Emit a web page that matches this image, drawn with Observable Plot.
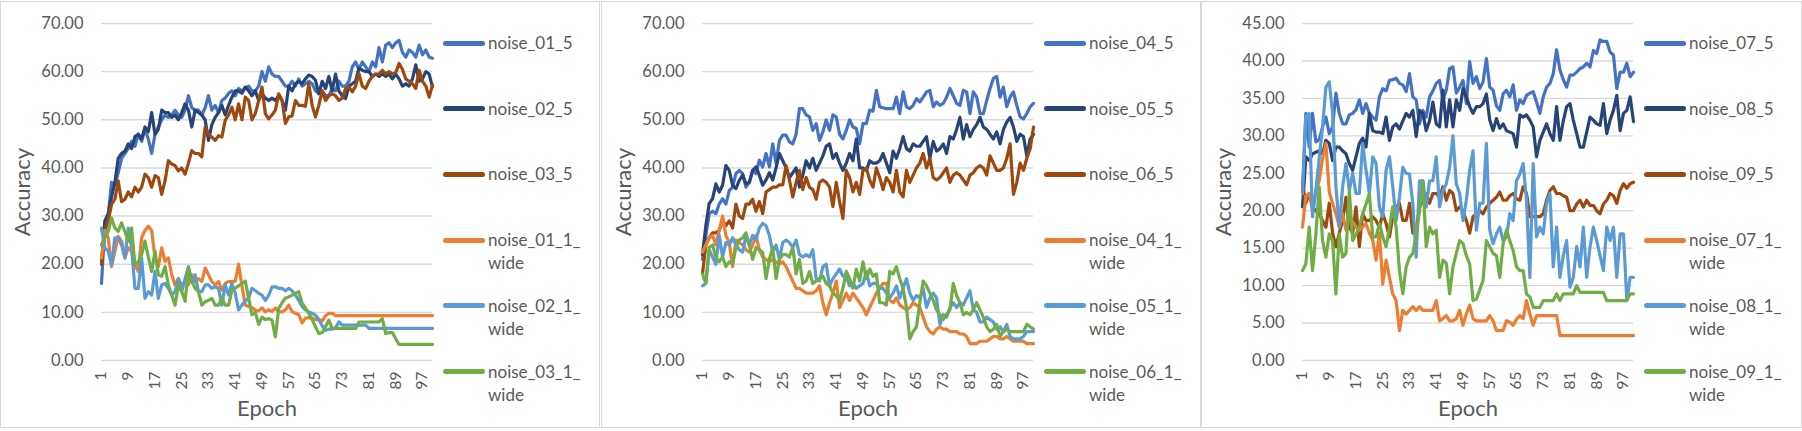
<!DOCTYPE html>
<html>
<head>
<meta charset="utf-8">
<script src="https://cdn.jsdelivr.net/npm/d3@7"></script>
<script src="https://cdn.jsdelivr.net/npm/@observablehq/plot@0.6"></script>
<style>
  html, body { margin: 0; padding: 0; background: #fff; }
  body { width: 1802px; height: 431px; position: relative; overflow: hidden; font-family: Lato, "Noto Sans", sans-serif; color: #595959; }
  .panel { position: absolute; top: 1px; height: 427px; border: 1px solid #d9d9d9; box-sizing: border-box; background: #fff; }
  .panel svg { position: absolute; left: 0; top: 0; }
  .sw { position: absolute; height: 5px; width: 42px; border-radius: 2.5px; }
  .lt { position: absolute; font-size: 17px; line-height: 23px; white-space: pre-line; color: #595959; }
</style>
</head>
<body>
<script>
const epochs = d3.range(1, 101);
const xTicks = [1, 9, 17, 25, 33, 41, 49, 57, 65, 73, 81, 89, 97];
const yTicks70 = [0, 10, 20, 30, 40, 50, 60, 70];
const yTicks45 = [0, 5, 10, 15, 20, 25, 30, 35, 40, 45];
const colors = ["#4472C4", "#264478", "#9E480E", "#ED7D31", "#5B9BD5", "#70AD47"];

// ---------- Panel 1 ----------
const names1 = ["noise_01_5", "noise_02_5", "noise_03_5", "noise_01_1_wide", "noise_02_1_wide", "noise_03_1_wide"];
const noise_01_5 = [16, 28, 30, 37, 36.5, 39, 42, 43, 44, 45.5,
 44.5, 47, 45.5, 48, 46, 43, 47, 48.5, 50, 51,
 50.5, 51, 52, 51, 50.5, 52, 55, 52.5, 52, 52,
 51, 52.5, 55, 52, 53, 51.5, 54, 54.5, 55.5, 56,
 55, 56.5, 56, 56.5, 57, 56, 56, 57, 60, 58,
 61, 59.5, 59, 59, 58, 57, 57, 58, 57, 58.5,
 57, 57.5, 58, 57.5, 56, 55.5, 56, 55, 55, 56.5,
 56, 58, 57, 57, 58, 61, 62, 60.5, 62, 61,
 60, 62, 61, 65, 62, 65.5, 66, 65, 66, 66.5,
 64, 63, 64.5, 64, 63, 65.5, 63.5, 64.5, 63, 62.8];
const noise_02_5 = [20, 29, 30.5, 34, 37, 42, 43, 43.5, 45, 44,
 46.5, 47, 46, 48.5, 47.5, 51.5, 47, 48, 52, 51.5,
 51.5, 50.5, 51, 50, 51.5, 53.3, 52, 48.5, 52, 51.5,
 51, 50, 45.7, 49, 50.5, 51.5, 53, 51, 53, 54.7,
 56, 56, 55.5, 56.8, 56, 55, 56, 54, 55.5, 54.5,
 54, 54.5, 54, 55, 54, 52, 57, 56, 57.5, 58,
 57.5, 58.5, 59.3, 59, 58.2, 55.4, 58, 56.5, 59, 56,
 59.5, 56, 55, 54.4, 57, 57.5, 58, 60.7, 60.3, 60,
 60, 59, 59.5, 59, 59.5, 59, 59.5, 58.5, 59.5, 58.5,
 57, 57.5, 57, 58.5, 61.4, 58, 58.5, 60, 59.5, 56.8];
const noise_03_5 = [20, 27, 29, 32.4, 33.5, 37.3, 33, 33.5, 35, 34,
 36, 35, 36, 38.7, 38, 36, 38.4, 38, 34.5, 37.3,
 41.5, 40.8, 40.5, 39.4, 40, 38.7, 41, 43.6, 43, 43,
 42.3, 48.5, 47, 46.4, 45.7, 46.7, 46.4, 49.9, 51, 52.6,
 50, 53.3, 50, 54.7, 54, 50, 51.3, 54, 56.8, 51.3,
 50.2, 51, 52, 55.4, 54, 49.2, 50.6, 50.8, 54, 53,
 53, 52.8, 57.5, 53, 50.6, 53, 56, 54, 55, 55.4,
 55, 54, 54.5, 56.5, 56.8, 55.8, 57, 59.6, 57, 56.5,
 58, 59, 59.5, 59.5, 60.3, 59.5, 60, 59.5, 59.8, 61.7,
 60.5, 58.5, 58, 57.5, 56.5, 60.3, 58, 57, 54.7, 57.2];
const noise_01_1_wide = [21.3, 27, 25.5, 19.5, 22.7, 25.8, 24.8, 21.3, 23.4, 22.7,
 19.9, 18.5, 25.5, 27, 27.9, 27, 21.3, 19.5, 23.4, 20.6,
 21.3, 17.8, 15.7, 17, 15.7, 16.4, 15.7, 17.8, 16.4, 17,
 16.4, 19.2, 17.8, 16.4, 15.7, 16.4, 14.6, 16, 16.4, 16.4,
 16.5, 20, 15.5, 11.5, 11.2, 11, 10.5, 10.3, 10.9, 10.1,
 10.5, 10.2, 10.9, 10.1, 10.1, 10.5, 11.5, 10.1, 9.8, 9.5,
 7.8, 8.8, 8.9, 8.8, 8.5, 8.5, 8.2, 9.3, 9.8, 9.8,
 9.33, 9.33, 9.33, 9.33, 9.33, 9.33, 9.33, 9.33, 9.33, 9.33,
 9.33, 9.33, 9.33, 9.33, 9.33, 9.33, 9.33, 9.33, 9.33, 9.33,
 9.33, 9.33, 9.33, 9.33, 9.33, 9.33, 9.33, 9.33, 9.33, 9.33];
const noise_02_1_wide = [27.5, 23.4, 22.7, 19.9, 25.5, 25.5, 24, 21.3, 27.5, 23.4,
 15, 15, 21.3, 12.9, 14.3, 13.6, 18.5, 12.9, 15.7, 16,
 15, 13.6, 14.3, 17, 14.3, 17, 19.5, 16.4, 17.8, 14.3,
 14.3, 15.7, 15.7, 15, 15.3, 15, 11.5, 15.7, 13.6, 16,
 14, 10.5, 11.5, 12.3, 13, 15, 14.5, 14, 13.6, 12.5,
 13.5, 15.3, 15.3, 15, 15, 14.5, 15, 14.5, 13.6, 12.5,
 11.2, 10.5, 10.1, 9.8, 9.4, 8.5, 7.2, 6.3, 6.5, 6.5,
 6.8, 8, 7.33, 7.33, 7.33, 7.33, 7.33, 7.33, 7.33, 7.33,
 6.67, 6.67, 6.67, 6.67, 6.67, 6.67, 6.67, 6.67, 6.67, 6.67,
 6.67, 6.67, 6.67, 6.67, 6.67, 6.67, 6.67, 6.67, 6.67, 6.67];
const noise_03_1_wide = [24, 25.5, 26.8, 29.6, 27.5, 26.8, 28.6, 26.8, 24.8, 27.5,
 19.9, 20.5, 22, 24.8, 21.5, 18.5, 22.7, 17.8, 17.5, 19.5,
 15.7, 13.6, 11.5, 15.7, 14.3, 12.3, 19.2, 16.4, 15, 14.3,
 11.5, 12.2, 12.5, 12.9, 11.5, 11.5, 13, 11.5, 11.5, 14.5,
 15, 15.5, 16, 16.5, 13, 9.5, 10, 7.5, 9, 8.5,
 8.7, 8.4, 4.9, 10.8, 12, 13, 13.2, 13.6, 14, 14.3,
 11.9, 10.9, 9.8, 8.5, 7, 5.6, 5.8, 7, 8.4, 6.67,
 6.67, 6.67, 6.67, 6.67, 6.67, 6.67, 6.67, 8, 8, 8,
 8, 8, 8, 8, 8.7, 5.6, 5.8, 5.8, 4.5, 3.33,
 3.33, 3.33, 3.33, 3.33, 3.33, 3.33, 3.33, 3.33, 3.33, 3.33];

// ---------- Panel 2 ----------
const names2 = ["noise_04_5", "noise_05_5", "noise_06_5", "noise_04_1_wide", "noise_05_1_wide", "noise_06_1_wide"];
const noise_04_5 = [21, 26, 30.5, 31, 30.5, 32.5, 33.6, 32.5, 35.3, 36,
 38.8, 39.5, 38.8, 36, 37, 39.5, 38.8, 41.6, 40.2, 43,
 40.2, 45, 40.9, 45.7, 46.8, 46.8, 45.4, 45, 47, 52.3,
 52.3, 51, 50.6, 47.8, 49.2, 45.7, 47.5, 50, 47.8, 51,
 50.6, 47, 46, 47.8, 50, 48.5, 48.2, 45, 49.2, 49.2,
 52, 51.8, 56.1, 52.7, 52.5, 52.3, 52.3, 52.3, 54.7, 51.3,
 55.8, 52.7, 52.3, 53, 54.4, 53.7, 54.7, 55.8, 56.1, 52.7,
 53.7, 53, 53.4, 54.7, 56.5, 55, 53.4, 53, 56.1, 55.8,
 51.3, 55.8, 54.7, 51.3, 51.3, 54, 56.5, 58.6, 59, 54.7,
 56.8, 52.7, 54.7, 55.8, 53, 50.6, 50.2, 51.3, 52.7, 53.4];
const noise_05_5 = [22, 28, 32.6, 33.6, 36.7, 35, 36.4, 40.5, 39.5, 36.4,
 35.7, 37.4, 38.5, 36.7, 37, 39.5, 40.2, 38.5, 36.4, 37.5,
 39, 37.5, 40, 43, 41.5, 40, 38, 39, 40, 36,
 38.5, 41.5, 40, 42, 39.5, 41, 42.5, 44.5, 45, 42,
 43, 41, 39.5, 41, 43, 41.5, 46, 40, 40, 39.5,
 41.5, 41, 41, 41.5, 43, 41, 39, 43.5, 42, 44,
 46.5, 44, 43.5, 45, 44.5, 44.5, 45.5, 46.5, 42, 45.5,
 43.5, 44, 45, 43, 46.5, 46, 48, 50.5, 46, 49,
 46.5, 48, 49, 50.5, 48.5, 48, 47, 46, 47.5, 45,
 48, 49.5, 50.5, 48.5, 45.5, 47, 46.5, 42.5, 46, 47];
const noise_06_5 = [18, 24, 25.5, 26.5, 26.5, 27, 29, 28, 29, 27.5,
 32.5, 30, 29.5, 32.5, 32.5, 33.5, 31, 33, 30.5, 35,
 35.5, 36, 36, 36.5, 36.5, 40.5, 37.5, 34, 37, 39.5,
 35.5, 38, 36, 35.5, 33.5, 37, 37.5, 37, 36, 32,
 37, 33, 29.5, 39.5, 38, 35, 37, 34.5, 39.5, 40,
 37.5, 36, 40, 38, 35.5, 38, 37, 35, 39.5, 35,
 34, 39.5, 37, 38.5, 40, 41, 43, 40, 42, 38,
 37.5, 38, 39, 40, 37, 38.5, 39, 38.5, 37.5, 36.5,
 38.5, 39, 40, 40.5, 40, 38.5, 42.5, 41, 39.5, 39.5,
 40, 42, 45, 34.5, 37, 41, 39.5, 42, 44, 48.5];
const noise_04_1_wide = [22.5, 24, 25.5, 26, 24, 27, 30, 26, 24.5, 19.5,
 25, 24.5, 24, 23, 22.5, 24, 26, 23, 21.5, 21,
 20.5, 21, 20.5, 20, 20.5, 19.5, 18, 16.5, 15, 15,
 14.5, 14, 14, 14, 14.5, 15.5, 12, 9.5, 12, 14,
 16.5, 11, 12.5, 14, 12.5, 14, 13, 12, 11, 9.5,
 11, 12.5, 14, 15, 16, 16, 12.5, 12, 13, 11.5,
 11, 10.5, 11, 12, 11.5, 11, 9, 7, 6, 5.5,
 6.5, 7, 6.5, 6.5, 6, 6, 6, 5.5, 5.5, 5,
 3.5, 3.5, 3.5, 4, 4, 4, 4.5, 5, 5, 4.5,
 4.5, 5, 4.5, 4, 4, 4, 4, 3.5, 3.5, 3.5];
const noise_05_1_wide = [15.5, 16, 23, 21.5, 20, 26, 21.5, 24.5, 24, 25.5,
 24, 23, 22.5, 26, 24, 26, 25, 27.5, 28.5, 28,
 26, 22.5, 24, 21, 24.5, 25, 24.5, 23.5, 25, 22,
 21.5, 22, 21.5, 23, 17, 16.5, 19.5, 20, 15.5, 17,
 18, 19, 17.5, 17.5, 15.5, 16, 15, 15.5, 16, 18.5,
 15.5, 16, 16, 15, 15, 14, 13, 14, 15.5, 13,
 15, 17, 14, 12.5, 13.5, 13, 15, 11, 13, 14,
 13, 7.5, 9.5, 9, 11, 12, 11, 12, 11.5, 13,
 14.5, 10.5, 10, 8, 8, 9, 8.5, 8, 6.5, 7,
 6, 7.5, 5, 4.5, 4.5, 4.5, 5, 6, 6, 6];
const noise_06_1_wide = [18, 16, 23.5, 24, 21.5, 20.5, 21.5, 19.5, 20.5, 20,
 23.5, 25, 25.5, 26.5, 24, 21, 23.5, 23, 22.5, 17,
 21, 23.5, 17, 21, 22, 22, 21.5, 23.5, 18, 21,
 16, 16.5, 18.5, 16, 16.5, 17, 17.5, 16, 15.5, 14,
 13.5, 12.5, 15, 18.5, 17, 15, 19, 16.5, 20.5, 17,
 19, 17.5, 18, 12, 12, 11.5, 18.5, 18, 19.5, 17,
 15, 11, 4.5, 6, 7, 12, 16.5, 15.5, 14, 12.5,
 10.5, 9.5, 8.5, 9.5, 10.5, 16, 13.5, 12, 9.5, 10,
 9.5, 10.5, 12, 10.5, 9, 7, 6, 6.5, 7.5, 5,
 6, 6.5, 6, 6, 6, 6, 6, 7.5, 7, 6.5];

// ---------- Panel 3 ----------
const names3 = ["noise_07_5", "noise_08_5", "noise_09_5", "noise_07_1_wide", "noise_08_1_wide", "noise_09_1_wide"];
const noise_07_5 = [22.7, 33, 28.5, 33, 29.2, 29.5, 31.2, 32.5, 30.3, 31.2,
 35.7, 33, 31.6, 31.6, 32.8, 33, 33.5, 34.8, 33, 34.3,
 33, 32.5, 32.1, 35.2, 36.3, 36, 37.4, 37.5, 37.7, 37,
 36.8, 35.9, 38.3, 35.2, 34.8, 31.6, 33.4, 32.5, 35.2, 36,
 37, 37.4, 34.8, 36.1, 39, 39.2, 35.7, 36.5, 37.4, 34.3,
 39.9, 37, 37.9, 36.3, 37.2, 40.3, 36.5, 36.1, 34, 33.4,
 35.6, 36.1, 35.2, 36.8, 33.4, 34.8, 34.3, 35.4, 35.7, 35.9,
 34.5, 33, 35.2, 36.5, 37, 38.3, 41.5, 38.8, 37.5, 36.5,
 38.1, 38.1, 38.5, 39, 39.2, 39.7, 39.2, 41.4, 41, 42.8,
 42.6, 42.6, 41.2, 40.8, 36.3, 38.5, 38.5, 39.7, 37.9, 38.5];
const noise_08_5 = [20.5, 27.2, 26.7, 27.6, 27.8, 28, 27.6, 29.4, 29, 26.7,
 28.5, 28.5, 28, 27.6, 26.3, 25.4, 27.2, 29, 29.7, 28.5,
 33, 30.7, 30.5, 30.5, 30.3, 32.5, 29.4, 31.2, 31.6, 30.9,
 32, 33, 32.5, 33.4, 29.9, 33.4, 33, 30.7, 32, 34.5,
 31.6, 31.2, 36.1, 31.2, 34.8, 31.2, 34.8, 33.4, 36.3, 35.2,
 33.9, 33, 33.9, 33.9, 34.3, 35.6, 32.1, 30.7, 32.3, 31,
 31.6, 30.7, 30.5, 30.3, 28.5, 32.8, 32.5, 32.8, 32.1, 31.2,
 27.2, 29.4, 30.5, 31.6, 30.3, 29.4, 33.9, 29.4, 32, 33.9,
 34.3, 32.1, 30.3, 28.5, 28.5, 30.5, 32.5, 32.1, 31.6, 31.4,
 34.3, 30.3, 32.1, 33.4, 35.4, 30.7, 33, 33.4, 35.2, 31.9];
const noise_09_5 = [23.6, 21, 22.3, 20.5, 20, 19.6, 18.7, 17.8, 21, 17,
 15.2, 17, 18.7, 21.8, 17.8, 17, 20.5, 15.2, 19.6, 18.7,
 18.7, 19.2, 18.7, 17.8, 19.6, 18.3, 16.5, 19.2, 20.5, 21,
 18.7, 18.7, 21, 17, 17.4, 20.5, 21.4, 22.3, 21, 22.3,
 22.3, 21.8, 23.2, 21.4, 22.7, 22.3, 20, 20.5, 20, 18.7,
 17, 19.2, 19.6, 20, 19.6, 20.5, 21, 21.4, 21.8, 22.5,
 21.4, 21.4, 22, 22.3, 21.6, 21.4, 23.2, 22.3, 19.2, 19.2,
 19.2, 19.2, 19.6, 21.4, 22.7, 23.2, 22.3, 22.3, 22, 21.8,
 20, 20, 20.9, 21.4, 20.5, 21.4, 20.7, 20.7, 20, 19.6,
 20.9, 21.4, 22.3, 22, 21, 22.7, 23.6, 23, 23.6, 23.8];
const noise_07_1_wide = [17.8, 22, 22.3, 20, 22.7, 24, 27, 29, 22.5, 21,
 19.6, 17.8, 19.6, 17.4, 19.2, 18.5, 17.8, 17.4, 17.8, 18.3,
 17, 16.1, 13.4, 17, 10.2, 13.4, 11.1, 8.9, 8, 4,
 6.7, 6.2, 6.7, 7.2, 6.7, 7.2, 6.7, 6.7, 6.7, 6.7,
 8, 5.3, 5.6, 6, 5.3, 5.3, 5.6, 6.7, 4.7, 6.2,
 7.4, 5.6, 5.3, 5.3, 5.3, 5.3, 6, 5.3, 4, 4,
 4, 5.3, 5.1, 4.7, 5.5, 6, 5.6, 8, 6.2, 4.7,
 6, 6, 6, 6, 6, 6, 6, 3.33, 3.33, 3.33,
 3.33, 3.33, 3.33, 3.33, 3.33, 3.33, 3.33, 3.33, 3.33, 3.33,
 3.33, 3.33, 3.33, 3.33, 3.33, 3.33, 3.33, 3.33, 3.33, 3.33];
const noise_08_1_wide = [22.3, 32.5, 33, 19.2, 22.7, 27, 31.2, 36.5, 37.2, 33,
 23.2, 17.8, 23.2, 26.3, 22.7, 25, 22.3, 22.3, 29, 25.4,
 22.3, 27.2, 26.3, 20.5, 19.2, 25.4, 27.2, 23.2, 18.7, 21.8,
 25.8, 25, 24.9, 20.9, 13.8, 24, 24, 20.5, 24, 24,
 27.2, 20.5, 22.7, 23.6, 25.8, 30, 23.6, 22.3, 18.7, 21.4,
 25.4, 28, 17.4, 21, 21, 29, 17.4, 15.6, 16.9, 17.8,
 16, 16.5, 19.6, 18.7, 24, 24.9, 26.3, 21.4, 11.1, 26.3,
 16.5, 17.8, 16.9, 21, 22.3, 12.5, 17.8, 11.1, 14, 16,
 9.8, 11.1, 15.2, 12.5, 17.8, 11.1, 15.2, 17.8, 16, 14,
 12, 17.8, 16, 17.8, 11.1, 16.9, 16.9, 8, 11.1, 11.1];
const noise_09_1_wide = [12, 12.9, 17.8, 12, 16.9, 23.2, 16, 13.8, 16.9, 16,
 8.9, 16.9, 13.8, 14.3, 22.7, 16, 16.9, 17.8, 19.6, 20.9,
 22.3, 16.5, 16.5, 18.3, 16.5, 15.2, 17.8, 20.5, 17.8, 12,
 8.9, 12.5, 13.8, 14.3, 16.9, 20, 24, 15.2, 17.8, 16.9,
 17.4, 11.1, 13.4, 13, 8.9, 12.5, 14.3, 16, 15.6, 14,
 12.9, 8, 8.2, 9.4, 10.7, 16, 15.2, 14.3, 14, 11.1,
 15.6, 17.4, 16, 14.7, 12.5, 12, 12, 8.9, 8.5, 7.1,
 7.1, 7.1, 8, 8, 8, 8, 8.9, 8, 8.9, 8.9,
 8.9, 8.9, 10, 9.1, 9.1, 9.1, 9.1, 9.1, 9.1, 9.1,
 9.1, 8, 8, 8, 8, 8, 8, 8, 8.9, 8.9];

const panels = [
  {left: 0, width: 600, names: names1, series: [noise_01_5, noise_02_5, noise_03_5, noise_01_1_wide, noise_02_1_wide, noise_03_1_wide], yMax: 70, yTicks: yTicks70},
  {left: 601, width: 600, names: names2, series: [noise_04_5, noise_05_5, noise_06_5, noise_04_1_wide, noise_05_1_wide, noise_06_1_wide], yMax: 70, yTicks: yTicks70},
  {left: 1201, width: 601, names: names3, series: [noise_07_5, noise_08_5, noise_09_5, noise_07_1_wide, noise_08_1_wide, noise_09_1_wide], yMax: 45, yTicks: yTicks45}
];

panels.forEach(p => {
  const div = document.createElement("div");
  div.className = "panel";
  div.style.left = p.left + "px";
  div.style.width = p.width + "px";
  document.body.appendChild(div);

  const rows = [];
  p.names.forEach((name, i) => p.series[i].forEach((v, j) => rows.push({epoch: epochs[j], value: v, name})));

  const W = p.width - 2, H = 425;
  const chart = Plot.plot({
    width: W, height: H,
    marginLeft: 100, marginRight: W - 431, marginTop: 21, marginBottom: H - 358,
    style: {fontFamily: "Lato, 'Noto Sans', sans-serif", color: "#595959", background: "transparent", overflow: "visible"},
    x: {domain: [1, 100], axis: null},
    y: {domain: [0, p.yMax], axis: null},
    color: {domain: p.names, range: colors},
    marks: [
      Plot.gridY(p.yTicks, {stroke: "#d9d9d9", strokeOpacity: 1, strokeWidth: 1.4}),
      Plot.axisY(p.yTicks, {tickSize: 0, tickPadding: 18, tickFormat: d => d.toFixed(2), fontSize: 16.5, label: null}),
      Plot.axisX(xTicks, {tickSize: 0, tickPadding: 11, tickRotate: -90, fontSize: 15.5, label: null}),
      Plot.lineY(rows, {x: "epoch", y: "value", stroke: "name", strokeWidth: 3.2}),
      Plot.text(["Accuracy"], {text: d => d, frameAnchor: "left", textAnchor: "middle", dx: -79, rotate: -90, fontSize: 22, fill: "#595959"}),
      Plot.text(["Epoch"], {text: d => d, frameAnchor: "bottom", textAnchor: "middle", dy: 55, fontSize: 22, fill: "#595959"})
    ]
  });
  div.appendChild(chart);

  p.names.forEach((name, i) => {
    const cy = 41 + i * 65.7;
    const sw = document.createElement("div");
    sw.className = "sw";
    sw.style.left = "442px";
    sw.style.top = (cy - 2.5) + "px";
    sw.style.background = colors[i];
    div.appendChild(sw);
    const t = document.createElement("div");
    t.className = "lt";
    t.style.left = "487px";
    t.style.top = (cy - 12) + "px";
    t.textContent = name.endsWith("_wide") ? name.replace(/_wide$/, "_\nwide") : name;
    div.appendChild(t);
  });
});
</script>
</body>
</html>
